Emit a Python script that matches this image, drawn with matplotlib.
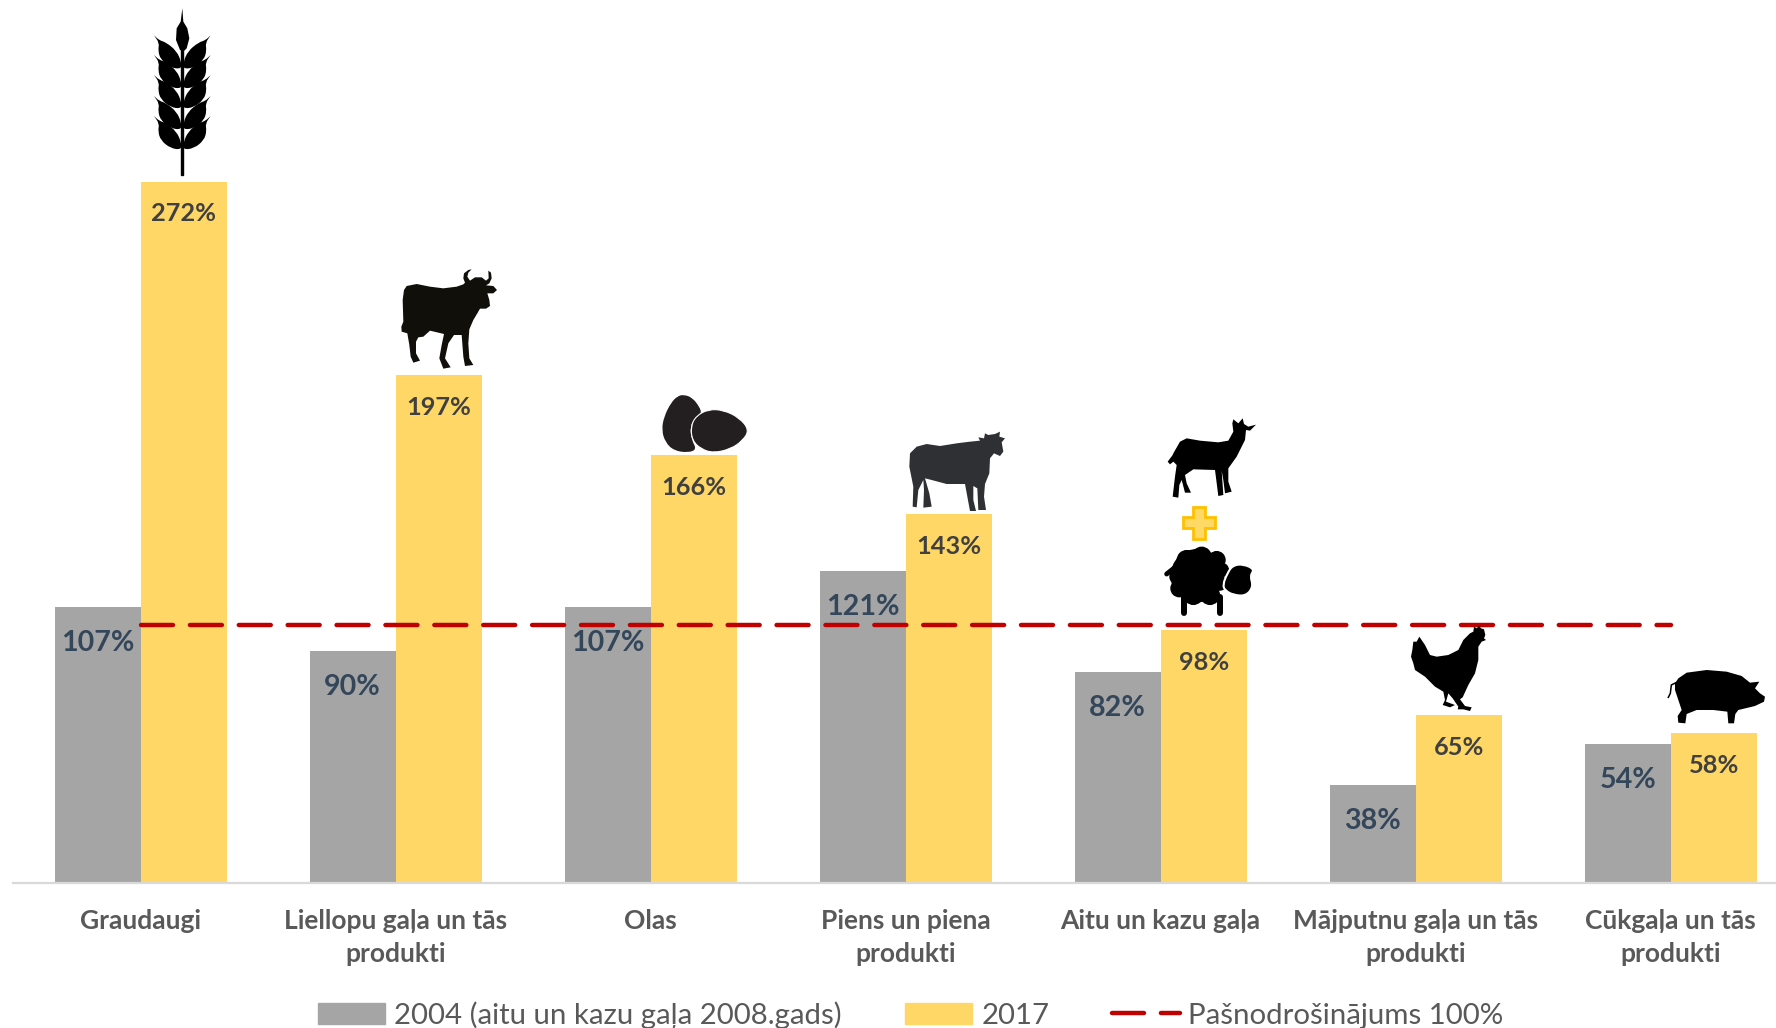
import matplotlib
matplotlib.use("Agg")
import matplotlib.pyplot as plt
from matplotlib.lines import Line2D
from matplotlib.patches import Circle, PathPatch, Polygon, Rectangle
from matplotlib.path import Path
import numpy as np

plt.rcParams['font.family'] = ['Lato', 'DejaVu Sans']

# values
categories = ["Graudaugi", "Liellopu gaļa un tās\nprodukti", "Olas", "Piens un piena\nprodukti",
              "Aitu un kazu gaļa", "Mājputnu gaļa un tās\nprodukti", "Cūkgaļa un tās\nprodukti"]
y2004 = [107, 90, 107, 121, 82, 38, 54]
y2017 = [272, 197, 166, 143, 98, 65, 58]
target = [100, 100, 100, 100, 100, 100, 100]
series_names = ["2004 (aitu un kazu gaļa 2008.gads)", "2017", "Pašnodrošinājums 100%"]

GRAY = "#A5A5A5"
YELLOW = "#FFD766"
RED = "#C00000"
W, H = 1776, 1028
PX = 72 / 100  # one pixel in points

COW = [(80,108),(110,102),(150,110),(190,115),(230,110),(250,103),(255,98),(250,85),(252,70),(265,60),(275,58),
       (265,68),(262,80),(270,92),(285,82),(305,82),(318,92),(326,85),(325,62),(333,68),(335,85),(328,100),(318,106),
       (340,108),(351,120),(340,130),(322,130),(328,150),(330,168),(318,176),(300,176),(292,190),(280,210),(268,238),
       (265,280),(268,325),(280,345),(255,348),(250,320),(245,255),(222,255),(205,280),(195,325),(212,352),(190,356),
       (178,325),(185,285),(192,252),(150,242),(130,260),(115,262),(108,275),(108,310),(120,332),(100,338),(92,320),
       (88,285),(82,250),(65,245),(64,230),(70,215),(68,150),(72,120)]
EGG_L = [(912,434),(937,443),(958,470),(965,490),(945,505),(930,530),(935,570),(950,598),(925,608),(882,602),
         (856,577),(845,540),(852,500),(873,458),(893,438)]
EGG_R = [(932,530),(948,498),(985,478),(1030,480),(1078,503),(1108,540),(1088,572),(1052,597),(1000,609),(963,597),(937,572)]
DAIRY = [(60,130),(80,110),(110,102),(150,108),(200,100),(240,95),(270,92),(265,82),(282,85),(285,70),(295,75),(315,72),
         (330,65),(328,80),(345,85),(335,97),(340,125),(330,138),(312,130),(300,145),(298,190),(285,222),(282,260),
         (288,300),(265,300),(262,235),(250,228),(250,270),(258,303),(240,303),(232,260),(225,222),(170,222),(125,210),
         (105,205),(118,250),(125,290),(100,293),(102,240),(100,210),(85,240),(80,292),(68,290),(70,230),(58,170)]
GOAT = [(850,130),(870,95),(890,85),(930,92),(985,97),(1015,92),(1030,65),(1027,40),(1030,28),(1045,40),(1058,25),
        (1062,42),(1075,50),(1098,44),(1080,62),(1068,60),(1065,90),(1055,110),(1040,140),(1015,175),(1015,215),
        (1025,245),(1005,250),(1000,210),(995,182),(1000,255),(985,258),(975,180),(910,178),(885,195),(890,220),
        (903,248),(885,248),(875,210),(868,225),(865,263),(848,260),(855,200),(860,165),(850,155),(840,163),(833,155),(848,135)]
SHEEP_HEAD = [(1012,490),(1028,466),(1060,462),(1094,478),(1080,497),(1090,530),(1068,558),(1030,555),(1006,542),(998,525)]
SHEEP_WOOL = [(922,497,78),(935,440,28),(890,450,28),(980,450,25),(862,500,22),(868,535,25),(910,555,28),(960,555,28),(990,520,20),(995,480,20)]
HEN = [(118,80),(135,105),(150,135),(170,140),(205,135),(235,120),(250,90),(270,70),(280,65),(282,50),(290,55),(297,47),
       (303,55),(312,58),(316,75),(312,85),(318,90),(305,95),(295,110),(295,150),(285,190),(265,225),(248,262),(240,268),
       (255,288),(275,292),(270,303),(250,298),(233,298),(235,290),(218,265),(205,250),(198,275),(225,285),(210,292),
       (188,285),(195,270),(190,245),(165,230),(135,200),(105,180),(100,160),(93,140),(97,120),(100,95),(110,95)]
PIG = [(895,205),(920,188),(980,180),(1040,185),(1085,198),(1110,218),(1138,215),(1125,235),(1140,250),(1155,260),
       (1152,275),(1125,288),(1075,300),(1066,312),(1062,340),(1045,340),(1042,305),(1000,300),(950,300),(920,312),
       (916,340),(895,338),(893,318),(905,300),(895,270),(885,240),(885,220)]
WHEAT_TOP = [(157,25),(160,65),(172,85),(178,115),(170,145),(160,155),(150,150),(138,120),(140,85),(152,65)]
# tip point twice so the curve keeps the sharp awn
WHEAT_LEAF = [(72,225),(72,225),(88,240),(108,246),(140,272),(154,305),(154,326),(122,322),(92,298),(84,270),(88,248)]
WHEAT_DY = [-119, -60, 0, 63, 123]
PLUS = [(910,292),(945,292),(945,322),(975,322),(975,355),(945,355),(945,387),(910,387),(910,355),(880,355),(880,322),(910,322)]


def to_px(pts, origin):
    return [(origin[0] + x / 3, origin[1] + y / 3) for x, y in pts]


def shape(ax, pts, origin, color, smooth=False, **kw):
    pts = to_px(pts, origin)
    if smooth:
        # quadratic curve through the midpoints, closed
        p = np.array(pts)
        mids = (p + np.roll(p, -1, axis=0)) / 2
        verts = [mids[-1]]
        codes = [Path.MOVETO]
        for a, b in zip(p, mids):
            verts += [a, b]
            codes += [Path.CURVE3, Path.CURVE3]
        ax.add_patch(PathPatch(Path(verts, codes), facecolor=color, edgecolor=kw.pop('edgecolor', 'none'), **kw))
    else:
        ax.add_patch(Polygon(pts, closed=True, facecolor=color, edgecolor=kw.pop('edgecolor', 'none'), **kw))


fig = plt.figure(figsize=(W / 100, H / 100), dpi=100)

# axes go from the left edge of the first category to the image edge, the last category is cut off
ax = fig.add_axes([13 / W, (H - 883) / H, (W - 13) / W, 883 / H])
step = 255
ax.set_xlim(-0.5, (W - 140.6) / step)
ax.set_ylim(0, 883 / 2.578)

x = np.arange(len(categories))
bw1 = 85.6 / step
bw2 = 86.4 / step
ax.bar(x - bw1 / 2, y2004, bw1, color=GRAY, zorder=2)
ax.bar(x + bw2 / 2, y2017, bw2, color=YELLOW, zorder=2)
ax.plot(x, target, color=RED, lw=3.2, dashes=(7.2, 3.8), dash_capstyle='round', zorder=3)

for xi, v in zip(x, y2004):
    ax.annotate(f"{v}%", (xi - bw1 / 2, v), xytext=(0, -36 * PX), textcoords='offset points', ha='center', va='center',
                fontsize=20.6, fontweight='bold', color="#34465A", zorder=4)
for xi, v in zip(x, y2017):
    ax.annotate(f"{v}%", (xi + bw2 / 2, v), xytext=(0, -32 * PX), textcoords='offset points', ha='center', va='center',
                fontsize=18.3, fontweight='bold', color="#404040", zorder=4)

for s in ['top', 'left', 'right']:
    ax.spines[s].set_visible(False)
ax.spines['bottom'].set_color("#D9D9D9")
ax.spines['bottom'].set_linewidth(1.6)
ax.set_yticks([])
ax.set_xticks(x)
ax.set_xticklabels(categories, fontsize=19, fontweight='bold', color="#595959", linespacing=1.47)
ax.tick_params(axis='x', length=0, pad=18.5)

handles = [Rectangle((0, 0), 1, 1, color=GRAY), Rectangle((0, 0), 1, 1, color=YELLOW),
           Line2D([0], [0], color=RED, lw=3.2, dashes=(7.2, 3.8), dash_capstyle='round')]
fig.legend(handles, series_names, loc='center', bbox_to_anchor=(911 / W, 1 - 1015 / H), ncol=3, frameon=False,
           fontsize=21.2, labelcolor="#595959", handlelength=2.28, handletextpad=0.3, columnspacing=2.15, borderpad=0)

# overlay in image pixels for the icons
ic = fig.add_axes([0, 0, 1, 1], zorder=5)
ic.set_xlim(0, W)
ic.set_ylim(H, 0)
ic.axis('off')
ic.patch.set_alpha(0)

# wheat
o = (130, 0)
for dy in WHEAT_DY:
    leaf = [(px, py + dy) for px, py in WHEAT_LEAF]
    shape(ic, leaf, o, 'black', smooth=True)
    shape(ic, [(314 - px, py) for px, py in leaf], o, 'black', smooth=True)
shape(ic, WHEAT_TOP, o, 'black')
ic.add_patch(Rectangle((130 + 154 / 3, 50), 2, 125, color='black'))

# beef cow and eggs
o = (380, 250)
shape(ic, COW, o, '#100F0A')
shape(ic, EGG_L, o, '#231F20', smooth=True)
shape(ic, EGG_R, o, '#231F20', smooth=True, edgecolor='white', linewidth=0.8)

# dairy cow, goat, plus, sheep
o = (890, 410)
shape(ic, DAIRY, o, '#2F3033')
shape(ic, GOAT, o, 'black')
shape(ic, PLUS, o, '#FFD966', edgecolor='#FFC000', linewidth=2)
for cx, cy, r in SHEEP_WOOL:
    ic.add_patch(Circle((890 + cx / 3, 410 + cy / 3), r / 3, color='black'))
ic.plot([890 + 830 / 3, 890 + 855 / 3], [410 + 492 / 3, 410 + 472 / 3], color='black', lw=3.5, solid_capstyle='round')
for lx in (881, 989):
    ic.plot([890 + lx / 3, 890 + lx / 3], [410 + 560 / 3, 410 + 608 / 3], color='black', lw=4.3, solid_capstyle='round')
shape(ic, SHEEP_HEAD, o, 'black', smooth=True, edgecolor='white', linewidth=1.5)

# hen and pig
o = (1380, 610)
shape(ic, HEN, o, 'black')
shape(ic, PIG, o, 'black')
tail = to_px([(888, 218), (874, 225), (871, 250), (865, 262)], o)
ic.plot(*zip(*tail), color='black', lw=1.1)

fig.savefig("out.png", dpi=100)
